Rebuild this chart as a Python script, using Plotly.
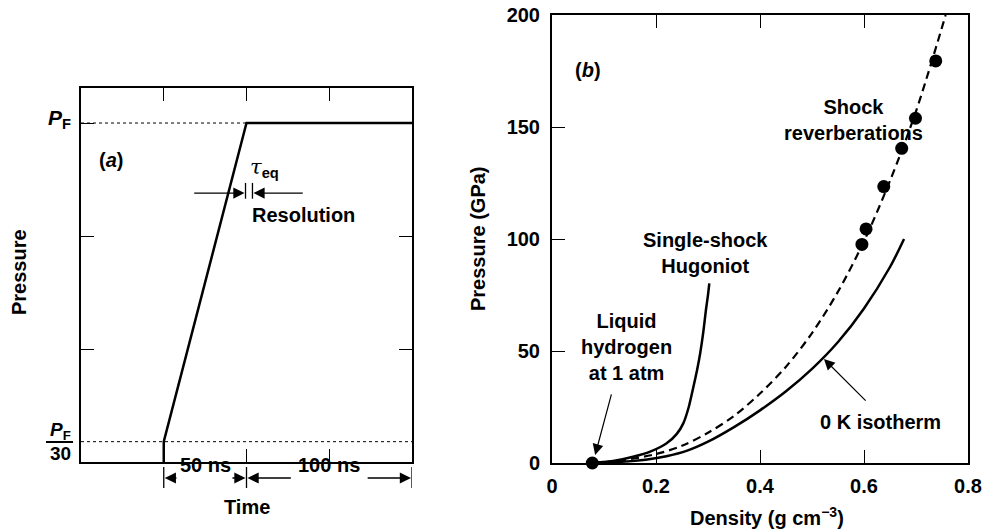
import plotly.graph_objects as go

W, H = 984, 529
FONT = "Liberation Sans"
FS = 20

# ---------------- Panel (a): pressure pulse vs time ----------------
pulse_time_ns = [50, 50, 100, 200]
pulse_pressure = [0.0, 0.18, 3.0, 3.0]          # arbitrary units, P_F = 3
pf_ref_time = [0, 100]
pf_ref_pressure = [3.0, 3.0]
pf30_ref_time = [0, 200]
pf30_ref_pressure = [0.18, 0.18]

# ---------------- Panel (b): pressure vs density ----------------
hug_rho = [0.0775, 0.12, 0.156, 0.19, 0.2205, 0.24, 0.2525, 0.263, 0.272, 0.279,
           0.285, 0.291, 0.296, 0.30, 0.3025]
hug_p = [0, 1.0, 2.8, 5.2, 8.8, 13, 17.7, 25, 34, 41.5, 49, 58.5, 68.3, 75, 80.2]

rev_fit_rho = [0.0775, 0.13, 0.20, 0.25, 0.30, 0.35, 0.40, 0.45, 0.50, 0.55, 0.60,
               0.65, 0.70, 0.757]
rev_fit_p = [0, 1.0, 4.0, 7.7, 13.5, 21, 31, 43, 58, 76.5, 99, 126, 157, 200]

iso_rho = [0.0775, 0.13, 0.18, 0.22, 0.26, 0.30, 0.35, 0.40, 0.45, 0.50, 0.55, 0.60,
           0.65, 0.677]
iso_p = [0, 0.5, 1.5, 3.0, 5.5, 9.5, 16, 23.5, 32, 42, 54, 69, 87.5, 100]

rev_pts_rho = [0.596, 0.604, 0.638, 0.6725, 0.699, 0.738]
rev_pts_p = [97.6, 104.5, 123.4, 140.5, 153.9, 179.5]

liq_rho = [0.0775]
liq_p = [0]

x_ticks_b = [0, 0.2, 0.4, 0.6, 0.8]
x_ticktext_b = ["0", "0.2", "0.4", "0.6", "0.8"]
y_ticks_b = [0, 50, 100, 150, 200]


def px(x, y):
    return x / W, 1 - y / H


def dom_x(a, b):
    return [a / W, b / W]


def dom_y(top, bottom):
    return [1 - bottom / H, 1 - top / H]


fig = go.Figure()

# panel a traces
fig.add_trace(go.Scatter(x=pf_ref_time, y=pf_ref_pressure, mode="lines",
                         line=dict(color="black", width=1, dash="3px,3px"),
                         xaxis="x", yaxis="y", cliponaxis=False))
fig.add_trace(go.Scatter(x=pf30_ref_time, y=pf30_ref_pressure, mode="lines",
                         line=dict(color="black", width=1, dash="3px,3px"),
                         xaxis="x", yaxis="y", cliponaxis=False))
fig.add_trace(go.Scatter(x=pulse_time_ns, y=pulse_pressure, mode="lines",
                         line=dict(color="black", width=2.5),
                         xaxis="x", yaxis="y", cliponaxis=False))

# panel b traces
fig.add_trace(go.Scatter(x=hug_rho, y=hug_p, mode="lines", line_shape="spline",
                         line=dict(color="black", width=2.5, smoothing=0.6),
                         xaxis="x2", yaxis="y2", cliponaxis=False))
fig.add_trace(go.Scatter(x=rev_fit_rho, y=rev_fit_p, mode="lines", line_shape="spline",
                         line=dict(color="black", width=2.2, dash="8px,5px", smoothing=0.9),
                         xaxis="x2", yaxis="y2", cliponaxis=False))
fig.add_trace(go.Scatter(x=iso_rho, y=iso_p, mode="lines", line_shape="spline",
                         line=dict(color="black", width=2.5, smoothing=0.9),
                         xaxis="x2", yaxis="y2", cliponaxis=False))
fig.add_trace(go.Scatter(x=rev_pts_rho, y=rev_pts_p, mode="markers",
                         marker=dict(color="black", size=13),
                         xaxis="x2", yaxis="y2", cliponaxis=False))
fig.add_trace(go.Scatter(x=liq_rho, y=liq_p, mode="markers",
                         marker=dict(color="black", size=13),
                         xaxis="x2", yaxis="y2", cliponaxis=False))

axis_common = dict(showline=True, linecolor="black", linewidth=2, ticks="inside",
                   ticklen=13, tickwidth=1.3, tickcolor="black", showgrid=False,
                   zeroline=False, automargin=False)

fig.update_layout(
    width=W, height=H,
    margin=dict(l=0, r=0, t=0, b=0, pad=0, autoexpand=False),
    paper_bgcolor="white", plot_bgcolor="white",
    showlegend=False,
    font=dict(family=FONT, size=FS, color="black", weight="bold"),
    xaxis=dict(domain=dom_x(81, 412), range=[0, 200], tickvals=[50, 100, 150],
               showticklabels=False, mirror="ticks", anchor="y", **axis_common),
    yaxis=dict(domain=dom_y(88, 462), range=[0, 3.31], tickvals=[1, 2, 3],
               showticklabels=False, mirror="ticks", anchor="x", **axis_common),
    xaxis2=dict(domain=dom_x(552, 968), range=[0, 0.8], tickvals=x_ticks_b,
                ticktext=x_ticktext_b, mirror="ticks", anchor="y2",
                tickfont=dict(family=FONT, size=FS, weight="bold"),
                ticklabelstandoff=4, ticklabeloverflow="allow", **axis_common),
    yaxis2=dict(domain=dom_y(15, 463), range=[0, 200], tickvals=y_ticks_b,
                mirror=True, anchor="x2",
                tickfont=dict(family=FONT, size=FS, weight="bold"),
                ticklabelstandoff=6, ticklabeloverflow="allow", **axis_common),
)

ann = []
shapes = []


def text_paper(x, y, text, size=FS, angle=0, xanchor="center"):
    X, Y = px(x, y)
    ann.append(dict(x=X, y=Y, xref="paper", yref="paper", text=text, showarrow=False,
                    textangle=angle, xanchor=xanchor, yanchor="middle",
                    font=dict(family=FONT, size=size, color="black", weight="bold")))


# ---- panel a text ----
text_paper(19, 272, "Pressure", angle=-90)
text_paper(247, 507, "Time")
text_paper(73, 119, "<i>P</i><sub>F</sub>", size=21, xanchor="right")
text_paper(60, 431, "<i>P</i><sub>F</sub>", size=19)
text_paper(60, 453, "30", size=19)
x0, y0 = px(46, 442)
x1, _ = px(73, 442)
shapes.append(dict(type="line", xref="paper", yref="paper", x0=x0, x1=x1, y0=y0, y1=y0,
                   line=dict(color="black", width=2)))

ann.append(dict(x=18, y=2.67, xref="x", yref="y", text="(<i>a</i>)", showarrow=False,
                font=dict(family=FONT, size=FS, weight="bold")))
ann.append(dict(x=111, y=2.6, xref="x", yref="y",
                text="<span style='font-family:DejaVu Serif;font-weight:normal'><i>τ</i></span><sub>eq</sub>",
                showarrow=False, font=dict(family=FONT, size=21, weight="bold")))
ann.append(dict(x=134.3, y=2.19, xref="x", yref="y", text="Resolution", showarrow=False,
                font=dict(family=FONT, size=FS, weight="bold")))
# resolution arrows
for tip, tail in [(98.8, 67.5), (104.2, 134.9)]:
    ann.append(dict(x=tip, y=2.38, ax=tail, ay=2.38, xref="x", yref="y", axref="x",
                    ayref="y", text="", showarrow=True, arrowhead=2, arrowsize=1.6,
                    arrowwidth=1.4, arrowcolor="black", standoff=0))
for bx in [99.4, 103.6]:
    shapes.append(dict(type="line", xref="x", yref="y", x0=bx, x1=bx, y0=2.33, y1=2.47,
                       line=dict(color="black", width=1.3)))

# bottom time-interval markers
yb = px(0, 478)[1]
ann.append(dict(x=75, y=yb, xref="x", yref="paper", text="50 ns", showarrow=False,
                font=dict(family=FONT, size=FS, weight="bold")))
ann.append(dict(x=150, y=yb, xref="x", yref="paper", text="100 ns", showarrow=False,
                font=dict(family=FONT, size=FS, weight="bold")))
for tip, tail in [(50.6, 58.6), (99.4, 90.6), (100.6, 127.7), (199.4, 172.3)]:
    ann.append(dict(x=tip, y=yb, ax=tail, ay=0, xref="x", yref="paper", axref="x",
                    ayref="pixel", text="", showarrow=True, arrowhead=2, arrowsize=1.6,
                    arrowwidth=1.4, arrowcolor="black", standoff=0))
for bx in [50, 100, 200]:
    shapes.append(dict(type="line", xref="x", yref="paper", x0=bx, x1=bx,
                       y0=px(0, 467)[1], y1=px(0, 488)[1],
                       line=dict(color="black", width=1.3)))

# ---- panel b text ----
text_paper(478, 239, "Pressure (GPa)", angle=-90)
text_paper(767, 516, "Density (g cm<sup>−3</sup>)")


def text_b(x, y, text):
    ann.append(dict(x=x, y=y, xref="x2", yref="y2", text=text, showarrow=False,
                    font=dict(family=FONT, size=FS, weight="bold")))


text_b(0.069, 175.4, "(<i>b</i>)")
text_b(0.579, 153, "Shock<br>reverberations")
text_b(0.296, 93.75, "Single-shock<br>Hugoniot")
text_b(0.144, 51.8, "Liquid<br>hydrogen<br>at 1 atm")
text_b(0.631, 18.3, "0 K isotherm")
for (tx, ty), (sx, sy) in [((0.083, 3.6), (0.115, 31.3)), ((0.523, 46.4), (0.606, 27.2))]:
    ann.append(dict(x=tx, y=ty, ax=sx, ay=sy, xref="x2", yref="y2", axref="x2",
                    ayref="y2", text="", showarrow=True, arrowhead=2, arrowsize=1.8,
                    arrowwidth=1.2, arrowcolor="black", standoff=0))

fig.update_layout(annotations=ann, shapes=shapes)
fig.write_html("out.html", config={"displayModeBar": False},
               post_script="document.body.style.margin='0';document.body.style.overflow='hidden';")
